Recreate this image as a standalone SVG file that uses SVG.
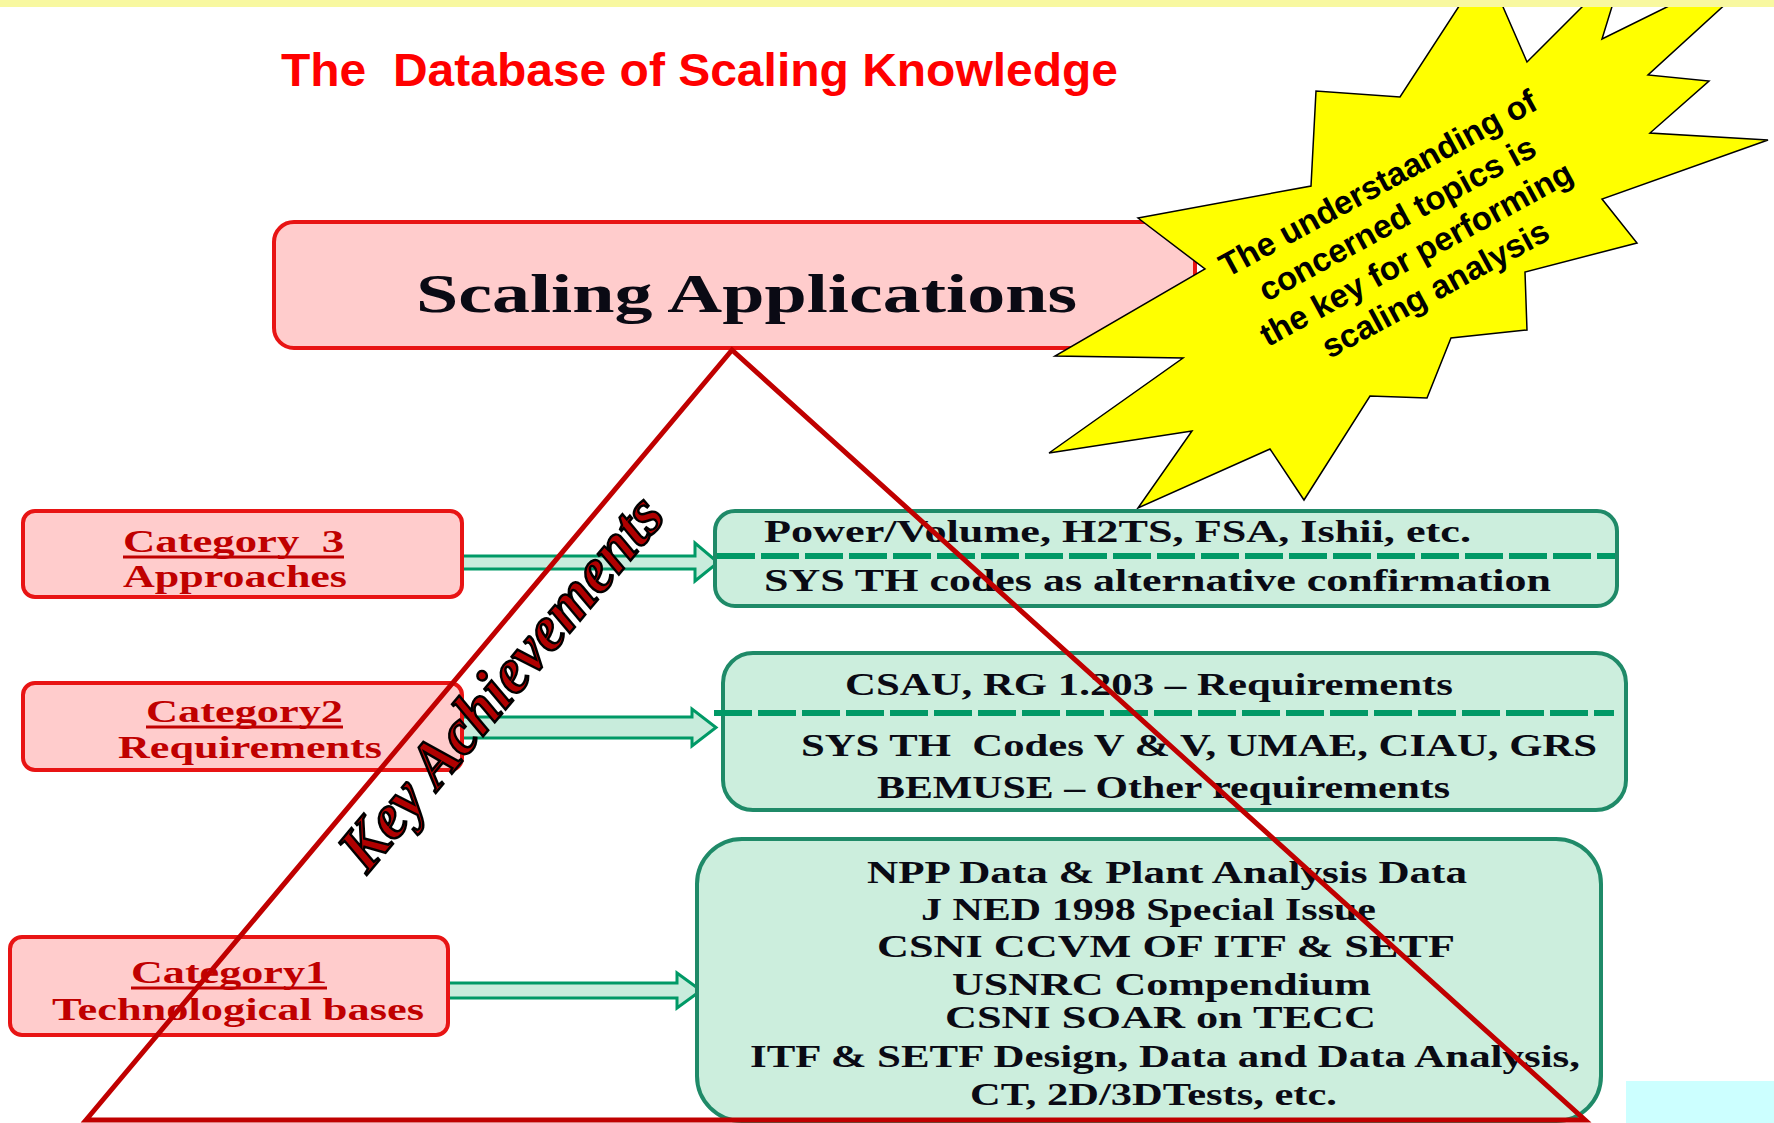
<svg xmlns="http://www.w3.org/2000/svg" width="1774" height="1123" viewBox="0 0 1774 1123">
<defs>
<style>
.pink{fill:#FFCCCC;stroke:#E81414;stroke-width:4}
.green{fill:#CCEEDD;stroke:#1F8A68;stroke-width:4}
.dash{stroke:#009966;stroke-width:6;stroke-dasharray:38 6;fill:none}
.arrow{fill:#C8ECDC;stroke:#009966;stroke-width:3;stroke-linejoin:miter}
.cat{font-family:"Liberation Serif","Times New Roman",serif;font-weight:bold;font-size:31px;fill:#C00000;white-space:pre}
.body{font-family:"Liberation Serif","Times New Roman",serif;font-weight:bold;font-size:31px;fill:#0A0A14;white-space:pre}
.ul{stroke:#C00000;stroke-width:3}
.tri{stroke:#C00000;stroke-width:5;fill:none;stroke-linejoin:miter}
.star{font-family:"Liberation Sans",Arial,sans-serif;font-weight:bold;font-size:33px;fill:#000;text-anchor:middle}
</style>
</defs>
<rect x="0" y="0" width="1774" height="1123" fill="#FFFFFF"/>

<g id="title">
<text x="281" y="86" font-family="Liberation Sans, Arial, sans-serif" font-weight="bold" font-size="47" fill="#FF0000" textLength="837" lengthAdjust="spacingAndGlyphs" xml:space="preserve" style="white-space:pre">The  Database of Scaling Knowledge</text>
</g>

<g id="scaling-applications">
<rect class="pink" x="274" y="222" width="921" height="126" rx="20"/>
<text x="416" y="312" font-family="Liberation Serif, Times New Roman, serif" font-weight="bold" font-size="54" fill="#0A0A14" textLength="661" lengthAdjust="spacingAndGlyphs">Scaling Applications</text>
</g>

<g id="starburst">
<polygon points="1138,218 1311,186 1316,91 1400,97 1463,0 1500,0 1527,62 1589,0 1614,0 1602,39 1681,0 1730,0 1648,75 1709,81 1650,133 1768,140 1602,199 1637,243 1525,272 1527,330 1451,338 1427,398 1370,396 1304,500 1270,449 1138,508 1192,431 1049,453 1183,358 1055,356 1205,269" fill="#FFFF00" stroke="#000" stroke-width="1.5"/>
<g transform="translate(1412,246) rotate(-28.5)">
<text class="star" x="0" y="-60">The understaanding of</text>
<text class="star" x="0" y="-20">concerned topics is</text>
<text class="star" x="0" y="20">the key for performing</text>
<text class="star" x="0" y="60">scaling analysis</text>
</g>
</g>

<g id="connectors">
<polygon class="arrow" points="462,556 695,556 695,543 718,562.5 695,581 695,569 462,569"/>
<polygon class="arrow" points="462,717 692,717 692,709 716,727.5 692,746 692,738 462,738"/>
<polygon class="arrow" points="447,983 677,983 677,973 701,990.5 677,1008 677,998 447,998"/>
</g>

<g id="category3">
<rect class="pink" x="23" y="511" width="439" height="86" rx="12"/>
<text class="cat" x="123" y="552" textLength="221" lengthAdjust="spacingAndGlyphs" xml:space="preserve">Category  3</text>
<line class="ul" x1="123" y1="557" x2="344" y2="557"/>
<text class="cat" x="123" y="587" textLength="224" lengthAdjust="spacingAndGlyphs">Approaches</text>
</g>

<g id="category2">
<rect class="pink" x="23" y="683" width="439" height="87" rx="12"/>
<text class="cat" x="146" y="722" textLength="197" lengthAdjust="spacingAndGlyphs">Category2</text>
<line class="ul" x1="146" y1="727" x2="343" y2="727"/>
<text class="cat" x="118" y="758" textLength="264" lengthAdjust="spacingAndGlyphs">Requirements</text>
</g>

<g id="category1">
<rect class="pink" x="10" y="937" width="438" height="98" rx="12"/>
<text class="cat" x="131" y="983" textLength="196" lengthAdjust="spacingAndGlyphs">Category1</text>
<line class="ul" x1="131" y1="988" x2="327" y2="988"/>
<text class="cat" x="52" y="1020" textLength="372" lengthAdjust="spacingAndGlyphs">Technological bases</text>
</g>

<g id="approaches-box">
<rect class="green" x="715" y="511" width="902" height="95" rx="20"/>
<line class="dash" x1="717" y1="556" x2="1615" y2="556"/>
<text class="body" x="764" y="542" textLength="707" lengthAdjust="spacingAndGlyphs">Power/Volume, H2TS, FSA, Ishii, etc.</text>
<text class="body" x="764" y="591" textLength="787" lengthAdjust="spacingAndGlyphs">SYS TH codes as alternative confirmation</text>
</g>

<g id="requirements-box">
<rect class="green" x="723" y="653" width="903" height="157" rx="30"/>
<line class="dash" x1="714" y1="713" x2="1614" y2="713"/>
<text class="body" x="845" y="695" textLength="608" lengthAdjust="spacingAndGlyphs">CSAU, RG 1.203 – Requirements</text>
<text class="body" x="801" y="756" textLength="796" lengthAdjust="spacingAndGlyphs" xml:space="preserve">SYS TH  Codes V &amp; V, UMAE, CIAU, GRS</text>
<text class="body" x="877" y="798" textLength="573" lengthAdjust="spacingAndGlyphs">BEMUSE – Other requirements</text>
</g>

<g id="technological-box">
<rect class="green" x="697" y="839" width="904" height="282" rx="45"/>
<text class="body" x="867" y="883" textLength="600" lengthAdjust="spacingAndGlyphs">NPP Data &amp; Plant Analysis Data</text>
<text class="body" x="921" y="920" textLength="455" lengthAdjust="spacingAndGlyphs">J NED 1998 Special Issue</text>
<text class="body" x="877" y="957" textLength="578" lengthAdjust="spacingAndGlyphs">CSNI CCVM OF ITF &amp; SETF</text>
<text class="body" x="952" y="995" textLength="419" lengthAdjust="spacingAndGlyphs">USNRC Compendium</text>
<text class="body" x="945" y="1028" textLength="431" lengthAdjust="spacingAndGlyphs">CSNI SOAR on TECC</text>
<text class="body" x="750" y="1067" textLength="830" lengthAdjust="spacingAndGlyphs">ITF &amp; SETF Design, Data and Data Analysis,</text>
<text class="body" x="970" y="1105" textLength="367" lengthAdjust="spacingAndGlyphs">CT, 2D/3DTests, etc.</text>
</g>

<g id="triangle">
<polygon class="tri" points="86,1120 732,350 1585,1120"/>
</g>

<g id="key-achievements">
<text transform="translate(517,696) rotate(-50)" x="0" y="0" text-anchor="middle" font-family="Liberation Serif, Times New Roman, serif" font-weight="bold" font-style="italic" font-size="64" fill="#B00000" stroke="#000" stroke-width="2.5" textLength="467" lengthAdjust="spacingAndGlyphs">Key Achievements</text>
</g>

<rect x="1626" y="1081" width="148" height="42" fill="#CCFFFF"/>
<rect x="0" y="0" width="1774" height="7" fill="#F8F8A0"/>
</svg>
